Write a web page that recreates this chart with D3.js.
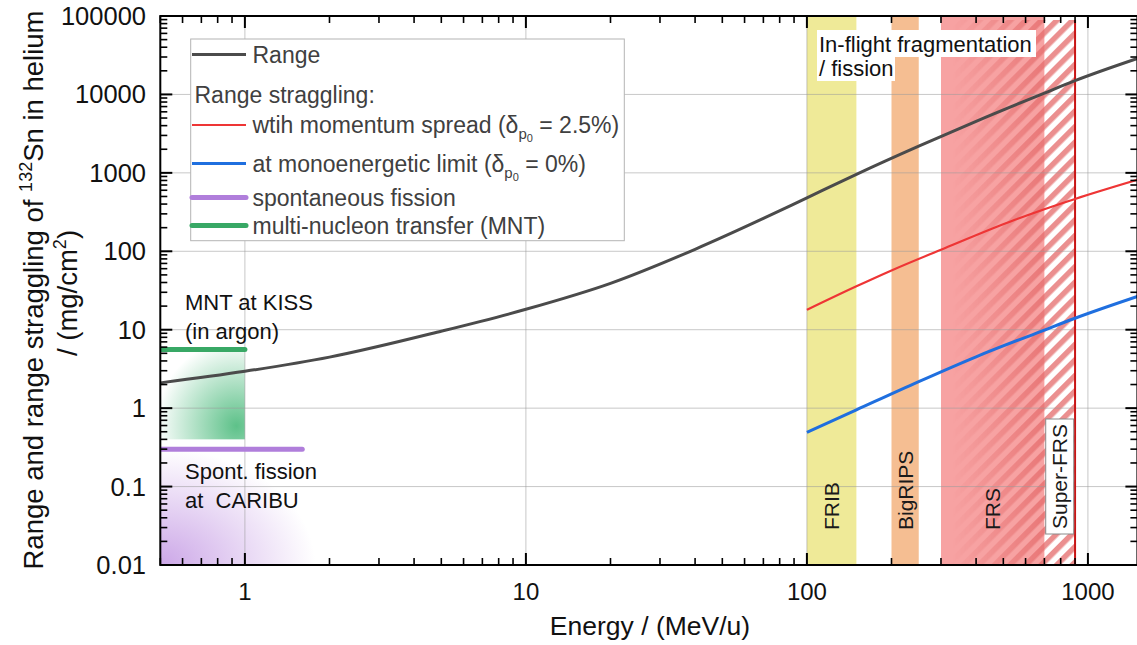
<!DOCTYPE html>
<html>
<head>
<meta charset="utf-8">
<script src="https://cdn.jsdelivr.net/npm/d3@7"></script>
<style>
  body { margin: 0; background: #fff; }
  svg { display: block; font-family: "Liberation Sans", Arial, sans-serif; }
</style>
</head>
<body>
<div id="chart"></div>
<script>
const width = 1137;
const height = 645;

// Range of 132Sn in helium (mg/cm2) vs energy (MeV/u)
const rangeEnergy = [0.5, 1, 2, 5, 10, 20, 40, 70, 100, 150, 250, 400, 700, 900, 1500];
const rangeValues = [2.1, 2.95, 4.47, 9.57, 18.2, 39, 106, 262, 481, 958, 2190, 4540, 10400, 14970, 28700];

// Range straggling with momentum spread 2.5%
const spreadEnergy = [100, 150, 200, 300, 550, 700, 900, 1500];
const spreadValues = [17.9, 35.7, 56.9, 104.5, 252, 344, 465, 816];

// Range straggling at monoenergetic limit
const monoEnergy = [100, 150, 250, 400, 700, 900, 1500];
const monoValues = [0.49, 0.95, 2.18, 4.52, 9.9, 14, 26.5];

// facility energy windows
const bandNames = ["FRIB", "BigRIPS", "FRS"];
const bandLow = [100, 200, 300];
const bandHigh = [150, 250, 700];
const superFrs = [700, 900];

// low-energy production methods
const mntLevel = 5.6;
const mntEnergy = [0.5, 1];
const fissionLevel = 0.3;
const fissionEnergy = [0.5, 1.6];

const xTicks = [1, 10, 100, 1000];
const xTickLabels = ["1", "10", "100", "1000"];
const yTicks = [0.01, 0.1, 1, 10, 100, 1000, 10000, 100000];
const yTickLabels = ["0.01", "0.1", "1", "10", "100", "1000", "10000", "100000"];

const bandColor = { FRIB: "#efea98", BigRIPS: "#f5be92", FRS: "#f7a2a2" };
const col = {
  range: "#4b4b4b",
  spread: "#ee3535",
  mono: "#1f6fdf",
  fission: "#b07edb",
  mnt: "#38a865",
};

const x = d3.scaleLog().domain([0.5, 1500]).range([160.3, 1137.4]);
const y = d3.scaleLog().domain([0.01, 100000]).range([565, 16]);
const [x0, x1] = x.range();
const [yb, yt] = y.range();

const svg = d3.select("#chart").append("svg")
  .attr("width", width)
  .attr("height", height);

const defs = svg.append("defs");
defs.append("clipPath").attr("id", "plot")
  .append("rect").attr("x", x0).attr("y", yt).attr("width", x1 - x0).attr("height", yb - yt);

// gradients for the low-energy regions
const gGreen = defs.append("radialGradient").attr("id", "greenFade")
  .attr("cx", "0.9").attr("cy", "0.85").attr("r", "0.95");
gGreen.append("stop").attr("offset", "0").attr("stop-color", "#55be83").attr("stop-opacity", 0.95);
gGreen.append("stop").attr("offset", "1").attr("stop-color", "#55be83").attr("stop-opacity", 0);

const gPurple = defs.append("radialGradient").attr("id", "purpleFade")
  .attr("gradientUnits", "userSpaceOnUse")
  .attr("cx", x0).attr("cy", yb).attr("r", 155)
  .attr("gradientTransform", `translate(${x0},${yb}) scale(1,0.75) translate(${-x0},${-yb})`);
gPurple.append("stop").attr("offset", "0").attr("stop-color", "#c9a2e6").attr("stop-opacity", 0.95);
gPurple.append("stop").attr("offset", "1").attr("stop-color", "#c9a2e6").attr("stop-opacity", 0);

// hatch for Super-FRS
const hatch = defs.append("pattern").attr("id", "hatch")
  .attr("patternUnits", "userSpaceOnUse")
  .attr("width", 11).attr("height", 11)
  .attr("patternTransform", "rotate(45)");
hatch.append("rect").attr("width", 5.5).attr("height", 11).attr("fill", "#e46a6a");

const fadeGrad = defs.append("linearGradient").attr("id", "hatchFade")
  .attr("gradientUnits", "userSpaceOnUse")
  .attr("x1", x(330)).attr("x2", x(700)).attr("y1", 0).attr("y2", 0);
fadeGrad.append("stop").attr("offset", "0").attr("stop-color", "#fff").attr("stop-opacity", 0);
fadeGrad.append("stop").attr("offset", "1").attr("stop-color", "#fff").attr("stop-opacity", 0.75);
defs.append("mask").attr("id", "hatchMask")
  .append("rect").attr("x", x(330)).attr("y", yt).attr("width", x(superFrs[1]) - x(330)).attr("height", yb - yt)
  .attr("fill", "url(#hatchFade)");

const plot = svg.append("g").attr("clip-path", "url(#plot)");

// low-energy shaded areas
plot.append("rect")
  .attr("x", x0).attr("y", y(0.3)).attr("width", x(2.2) - x0).attr("height", yb - y(0.3))
  .attr("fill", "url(#purpleFade)");
plot.append("rect")
  .attr("x", x(mntEnergy[0])).attr("y", y(mntLevel))
  .attr("width", x(mntEnergy[1]) - x(mntEnergy[0])).attr("height", y(0.4) - y(mntLevel))
  .attr("fill", "url(#greenFade)");

// facility bands
plot.selectAll(".band")
  .data(bandNames)
  .enter()
  .append("rect")
  .attr("class", "band")
  .attr("x", (d, i) => x(bandLow[i]))
  .attr("y", yt)
  .attr("width", (d, i) => x(bandHigh[i]) - x(bandLow[i]))
  .attr("height", yb - yt)
  .attr("fill", (d) => bandColor[d]);

plot.append("rect")
  .attr("x", x(330)).attr("y", yt + 4)
  .attr("width", x(superFrs[1]) - x(330)).attr("height", yb - yt - 4)
  .attr("fill", "url(#hatch)")
  .attr("mask", "url(#hatchMask)");

// grid
plot.selectAll(".gx").data(xTicks).enter().append("line")
  .attr("x1", (d) => x(d)).attr("x2", (d) => x(d))
  .attr("y1", yt).attr("y2", yb)
  .attr("stroke", "#9a9a9a").attr("stroke-opacity", 0.55).attr("stroke-width", 1);
plot.selectAll(".gy").data(yTicks).enter().append("line")
  .attr("x1", x0).attr("x2", x1)
  .attr("y1", (d) => y(d)).attr("y2", (d) => y(d))
  .attr("stroke", "#9a9a9a").attr("stroke-opacity", 0.55).attr("stroke-width", 1);

// Super-FRS upper limit
plot.append("line")
  .attr("x1", x(superFrs[1])).attr("x2", x(superFrs[1]))
  .attr("y1", yt + 4).attr("y2", yb)
  .attr("stroke", "#c81515").attr("stroke-width", 2);

// curves
const line = d3.line()
  .x((d) => x(d[0]))
  .y((d) => y(d[1]))
  .curve(d3.curveMonotoneX);

plot.append("path")
  .datum(rangeEnergy.map((e, i) => [e, rangeValues[i]]))
  .attr("fill", "none").attr("stroke", col.range).attr("stroke-width", 3)
  .attr("d", line);
plot.append("path")
  .datum(spreadEnergy.map((e, i) => [e, spreadValues[i]]))
  .attr("fill", "none").attr("stroke", col.spread).attr("stroke-width", 2.2)
  .attr("d", line);
plot.append("path")
  .datum(monoEnergy.map((e, i) => [e, monoValues[i]]))
  .attr("fill", "none").attr("stroke", col.mono).attr("stroke-width", 3)
  .attr("d", line);

plot.append("line")
  .attr("x1", x(mntEnergy[0])).attr("x2", x(mntEnergy[1]))
  .attr("y1", y(mntLevel)).attr("y2", y(mntLevel))
  .attr("stroke", col.mnt).attr("stroke-width", 5).attr("stroke-linecap", "round");
plot.append("line")
  .attr("x1", x(fissionEnergy[0])).attr("x2", x(fissionEnergy[1]))
  .attr("y1", y(fissionLevel)).attr("y2", y(fissionLevel))
  .attr("stroke", col.fission).attr("stroke-width", 5).attr("stroke-linecap", "round");

// band labels
const bandText = svg.append("g").attr("font-size", 21).attr("fill", "#1a1a1a");
bandNames.forEach((name, i) => {
  const cx = x(Math.sqrt(bandLow[i] * bandHigh[i]));
  bandText.append("text")
    .attr("transform", `translate(${cx + 7.5},530) rotate(-90)`)
    .text(name);
});
const sfx = x(Math.sqrt(superFrs[0] * superFrs[1]));
bandText.append("rect")
  .attr("x", sfx - 14).attr("y", 419).attr("width", 28).attr("height", 115)
  .attr("fill", "#fff").attr("stroke", "#8a8a8a").attr("stroke-width", 1);
bandText.append("text")
  .attr("transform", `translate(${sfx + 7.5},476.5) rotate(-90)`)
  .attr("text-anchor", "middle")
  .text("Super-FRS");

// in-flight label with white boxes
const inflight = svg.append("g").attr("font-size", 22).attr("fill", "#111");
inflight.append("rect").attr("x", 817).attr("y", 30).attr("width", 219).attr("height", 27).attr("fill", "#fff");
inflight.append("rect").attr("x", 817).attr("y", 57).attr("width", 78).attr("height", 24).attr("fill", "#fff");
inflight.append("text").attr("x", 819).attr("y", 52).text("In-flight fragmentation");
inflight.append("text").attr("x", 819).attr("y", 76).text("/ fission");

// low-energy labels
const lowText = svg.append("g").attr("font-size", 22).attr("fill", "#111");
lowText.append("text").attr("x", 185).attr("y", 310).text("MNT at KISS");
lowText.append("text").attr("x", 185).attr("y", 339).text("(in argon)");
lowText.append("text").attr("x", 185).attr("y", 479).text("Spont. fission");
lowText.append("text").attr("x", 185).attr("y", 508).attr("xml:space", "preserve").text("at  CARIBU");

// axes frame and ticks
const axes = svg.append("g");
const minor = [];
for (let p = -1; p <= 4; p++) {
  for (let m = 1; m <= 9; m++) {
    const v = m * Math.pow(10, p);
    if (v >= 0.5 && v <= 1500 && m !== 1) minor.push(v);
  }
}
const yMinor = [];
for (let p = -2; p <= 4; p++) {
  for (let m = 2; m <= 9; m++) yMinor.push(m * Math.pow(10, p));
}

[yb, yt].forEach((yy, k) => {
  const dir = k === 0 ? -1 : 1;
  axes.selectAll(null).data(xTicks).enter().append("line")
    .attr("x1", (d) => x(d)).attr("x2", (d) => x(d))
    .attr("y1", yy).attr("y2", yy + dir * 12)
    .attr("stroke", "#000").attr("stroke-width", 2);
  axes.selectAll(null).data(minor).enter().append("line")
    .attr("x1", (d) => x(d)).attr("x2", (d) => x(d))
    .attr("y1", yy).attr("y2", yy + dir * 7)
    .attr("stroke", "#000").attr("stroke-width", 1.6);
});
[x0, x1].forEach((xx, k) => {
  const dir = k === 0 ? 1 : -1;
  axes.selectAll(null).data(yTicks).enter().append("line")
    .attr("y1", (d) => y(d)).attr("y2", (d) => y(d))
    .attr("x1", xx).attr("x2", xx + dir * 12)
    .attr("stroke", "#000").attr("stroke-width", 2);
  axes.selectAll(null).data(yMinor).enter().append("line")
    .attr("y1", (d) => y(d)).attr("y2", (d) => y(d))
    .attr("x1", xx).attr("x2", xx + dir * 7)
    .attr("stroke", "#000").attr("stroke-width", 1.6);
});
axes.append("rect")
  .attr("x", x0).attr("y", yt).attr("width", x1 - x0).attr("height", yb - yt)
  .attr("fill", "none").attr("stroke", "#000").attr("stroke-width", 2);

// tick labels
svg.append("g").attr("font-size", 24).attr("fill", "#111").attr("text-anchor", "middle")
  .selectAll("text").data(xTicks).enter().append("text")
  .attr("x", (d) => x(d)).attr("y", 600)
  .text((d, i) => xTickLabels[i]);
svg.append("g").attr("font-size", 25.5).attr("fill", "#111").attr("text-anchor", "end")
  .selectAll("text").data(yTicks).enter().append("text")
  .attr("x", 146).attr("y", (d) => y(d) + 9)
  .text((d, i) => yTickLabels[i]);

// axis titles
svg.append("text")
  .attr("x", 650).attr("y", 635)
  .attr("text-anchor", "middle").attr("font-size", 26.5).attr("fill", "#111")
  .text("Energy / (MeV/u)");

const yl1 = svg.append("text")
  .attr("transform", "translate(43,290) rotate(-90)")
  .attr("text-anchor", "middle").attr("font-size", 27.5).attr("fill", "#111");
yl1.append("tspan").text("Range and range straggling of ");
yl1.append("tspan").attr("font-size", 18).attr("dy", -11).text("132");
yl1.append("tspan").attr("dy", 11).text("Sn in helium");

const yl2 = svg.append("text")
  .attr("transform", "translate(77,293) rotate(-90)")
  .attr("text-anchor", "middle").attr("font-size", 27.5).attr("fill", "#111");
yl2.append("tspan").text("/ (mg/cm");
yl2.append("tspan").attr("font-size", 18).attr("dy", -11).text("2");
yl2.append("tspan").attr("dy", 11).text(")");

// legend
const legend = svg.append("g").attr("font-size", 23).attr("fill", "#404040");
legend.append("rect")
  .attr("x", 190.7).attr("y", 39).attr("width", 433.6).attr("height", 201.7)
  .attr("fill", "#fff").attr("stroke", "#b4b4b4").attr("stroke-width", 1);

const legendRows = [
  { y: 54.5, color: col.range, w: 3, label: "Range" },
  { y: 125, color: col.spread, w: 2, label: "spread" },
  { y: 163.5, color: col.mono, w: 3, label: "mono" },
  { y: 197.5, color: col.fission, w: 5, label: "spontaneous fission" },
  { y: 225.5, color: col.mnt, w: 5, label: "multi-nucleon transfer (MNT)" },
];
legendRows.forEach((r) => {
  legend.append("line")
    .attr("x1", 192).attr("x2", 246).attr("y1", r.y).attr("y2", r.y)
    .attr("stroke", r.color).attr("stroke-width", r.w)
    .attr("stroke-linecap", r.w >= 5 ? "round" : "butt");
  const t = legend.append("text").attr("x", 252.5).attr("y", r.y + 8);
  if (r.label === "spread" || r.label === "mono") {
    t.append("tspan").text(r.label === "spread" ? "wtih momentum spread (δ" : "at monoenergetic limit (δ");
    t.append("tspan").attr("font-size", 15).attr("dy", 6).text("p");
    t.append("tspan").attr("font-size", 11).attr("dy", 3).text("0");
    t.append("tspan").attr("dy", -9).text(" = 2.5%)".replace("2.5", r.label === "spread" ? "2.5" : "0"));
  } else {
    t.text(r.label);
  }
});
legend.append("text").attr("x", 194.5).attr("y", 103).text("Range straggling:");
</script>
</body>
</html>
